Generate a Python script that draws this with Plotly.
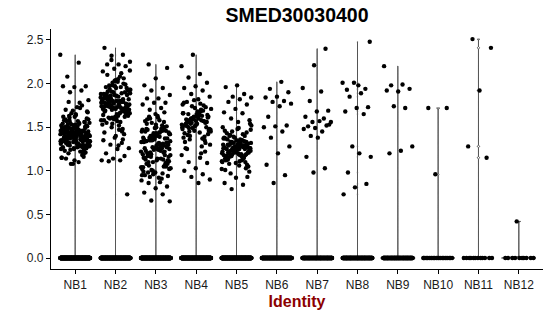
import numpy as np
import plotly.graph_objects as go

categories = ["NB1", "NB2", "NB3", "NB4", "NB5", "NB6", "NB7", "NB8", "NB9", "NB10", "NB11", "NB12"]

nb1 = [2.33,2.24,2.08,1.97,1.96,1.97,1.92,1.90,1.81,1.73,1.70,
1.45,1.38,1.52,1.29,1.41,1.60,1.35,1.47,1.22,1.43,1.55,1.31,1.39,1.49,1.26,1.44,1.36,1.58,1.42,
1.33,1.50,1.19,1.40,1.46,1.28,1.53,1.37,1.62,1.34,1.45,1.24,1.41,1.48,1.32,1.56,1.38,1.15,1.43,1.30,
1.51,1.36,1.44,1.27,1.66,1.40,1.47,1.33,1.21,1.42,1.54,1.37,1.29,1.45,1.39,1.59,1.35,1.48,1.25,1.43,
1.31,1.52,1.38,1.46,1.18,1.41,1.34,1.57,1.44,1.28,1.40,1.49,1.36,1.63,1.32,1.45,1.23,1.39,1.53,1.42,
1.30,1.47,1.37,1.12,1.44,1.35,1.55,1.41,1.27,1.50,1.38,1.69,1.33,1.46,1.20,1.43,1.39,1.58,1.34,1.48,
1.29,1.42,1.36,1.51,1.25,1.45,1.40,1.61,1.32,1.47,1.37,1.16,1.44,1.31,1.54,1.39,1.26,1.49,1.35,1.75,
1.41,1.28,1.46,1.38,1.56,1.33,1.43,1.22,1.50,1.36,1.64,1.40,1.30,1.47,1.34,1.10,1.45,1.39,1.52,1.27,
1.42,1.37,1.59,1.31,1.48,1.24,1.44,1.35,1.78,1.40,1.29,1.53,1.38,1.46,1.08,1.33,1.43,1.57,1.36,1.49,
1.26,1.41,1.32,1.67,1.45,1.39,1.21,1.47,1.34,1.55,1.30,1.42,1.37,1.62,1.28,1.44,1.40,1.51,1.14,1.35,
1.08,1.15,1.72,1.79,1.68,1.65]

nb2 = [2.41,2.33,2.32,2.25,2.22,2.22,2.20,2.17,2.14,2.12,
1.78,1.92,1.65,1.85,1.71,2.01,1.58,1.80,1.74,1.95,1.62,1.88,1.69,1.83,1.76,2.05,1.55,1.90,1.72,1.81,
1.67,1.98,1.75,1.60,1.86,1.79,1.70,1.93,1.52,1.84,1.77,2.03,1.64,1.89,1.73,1.82,1.57,1.96,1.68,1.80,
1.74,2.08,1.61,1.87,1.71,1.78,1.48,1.91,1.66,1.85,1.76,1.99,1.59,1.83,1.72,1.94,1.63,1.80,1.69,2.06,
1.54,1.88,1.75,1.81,1.67,1.97,1.73,1.45,1.86,1.70,2.02,1.77,1.62,1.90,1.79,1.56,1.84,1.74,1.95,1.68,
1.82,1.50,1.89,1.76,2.10,1.65,1.87,1.71,1.79,1.60,1.92,1.73,1.83,1.42,1.98,1.78,1.66,1.85,1.70,2.04,
1.58,1.81,1.75,1.93,1.63,1.88,1.72,1.77,1.53,1.96,1.80,1.69,1.86,1.74,2.00,1.61,1.84,1.47,1.91,1.76,
1.38,1.35,1.32,1.30,1.26,1.25,1.20,1.17,1.14,1.12,1.12,1.11,0.73,1.40,1.44,1.36,2.27,2.15,1.29]

nb3 = [2.22,2.18,2.06,1.98,1.95,1.92,1.87,1.83,1.83,1.78,1.78,1.76,1.72,1.70,
1.32,1.12,1.45,1.05,1.38,1.22,1.58,0.98,1.28,1.41,1.15,1.52,1.35,1.02,1.25,1.48,
1.18,1.39,0.95,1.30,1.62,1.08,1.43,1.26,1.13,1.55,1.34,0.92,1.20,1.46,1.37,1.04,1.29,1.60,1.16,1.40,
1.23,1.50,1.00,1.33,1.44,1.10,1.27,1.65,1.36,0.97,1.19,1.42,1.31,1.54,1.07,1.24,1.47,1.14,1.38,0.94,
1.29,1.57,1.21,1.35,1.03,1.44,1.17,1.32,1.49,0.99,1.26,1.40,1.11,1.63,1.34,1.22,0.96,1.45,1.28,1.06,
1.37,1.53,1.15,1.31,1.01,1.42,1.24,1.59,1.09,1.36,1.19,1.48,0.93,1.30,1.41,1.13,1.56,1.27,1.04,1.39,
1.20,1.51,0.98,1.33,1.46,1.16,1.25,1.61,1.08,1.37,1.43,1.02,1.23,1.35,1.12,1.50,0.95,1.29,1.40,1.18,
1.32,1.47,1.05,1.26,1.38,0.91,1.21,1.44,1.14,1.34,1.67,1.10,0.89,0.87,0.86,0.82,0.80,0.75,0.73,0.66,0.65]

nb4 = [2.33,2.20,2.11,2.07,2.01,1.97,1.95,1.92,1.88,1.85,1.82,1.79,
1.55,1.62,1.48,1.70,1.58,1.42,1.65,1.52,1.75,1.60,1.45,1.67,1.56,1.50,1.72,1.38,1.63,1.54,
1.47,1.68,1.59,1.35,1.61,1.53,1.77,1.49,1.64,1.57,1.43,1.69,1.55,1.30,1.60,1.51,1.73,1.46,1.66,1.58,
1.40,1.62,1.54,1.26,1.57,1.49,1.71,1.44,1.65,1.56,1.52,1.78,1.37,1.60,1.48,1.63,1.55,1.22,1.59,1.50,
1.68,1.45,1.61,1.53,1.33,1.57,1.74,1.47,1.64,1.41,1.56,1.51,1.66,1.28,1.58,1.46,1.62,1.54,1.39,1.60,
1.18,1.15,1.10,1.09,1.03,1.00,0.96,0.93,0.90,0.86,1.25,1.32,1.81,1.76,1.20,1.36]

nb5 = [1.98,1.96,1.88,1.85,1.84,1.82,1.79,1.76,1.71,1.67,1.66,1.60,1.58,1.56,
1.25,1.18,1.32,1.10,1.28,1.40,1.21,1.35,1.14,1.27,1.45,1.23,1.06,1.30,1.19,1.38,
1.26,1.12,1.33,1.22,1.48,1.16,1.29,1.24,1.02,1.36,1.20,1.31,1.09,1.27,1.42,1.17,1.25,1.34,1.13,1.28,
1.22,1.50,1.19,1.30,1.05,1.24,1.37,1.15,1.26,1.32,1.11,1.21,1.44,1.28,1.18,1.35,1.23,0.99,1.29,1.16,
1.25,1.39,1.20,1.31,1.08,1.27,1.22,1.46,1.14,1.33,1.26,1.19,1.36,1.03,1.24,1.30,1.17,1.41,1.21,1.28,
1.12,1.34,1.25,1.52,1.18,1.29,1.07,1.23,1.38,1.15,1.32,1.26,1.20,1.43,1.10,1.27,1.22,1.35,1.16,1.31,
1.24,1.01,1.29,1.19,1.47,1.25,1.13,1.33,1.21,1.37,1.28,0.97,1.23,1.30,1.17,1.40,1.26,1.11,1.32,1.22,
0.93,0.92,0.86,0.84,0.79,1.54,1.49]

nb6 = [2.02,1.94,1.90,1.85,1.84,1.80,1.79,1.77,1.74,1.62,1.52,1.51,1.50,1.45,1.38,1.28,1.20,1.07,0.95,0.86]
nb7 = [2.40,2.21,1.95,1.91,1.80,1.69,1.68,1.62,1.60,1.56,1.56,1.57,1.51,1.52,1.49,1.48,1.45,1.40,1.53,1.38,1.16,1.03,0.98]
nb8 = [2.48,1.98,1.93,1.94,2.01,2.01,1.89,1.85,1.73,1.72,1.68,1.65,1.28,1.16,1.20,0.98,0.85,0.81,0.73]
nb9 = [2.20,1.99,1.98,1.94,1.91,1.92,1.72,1.74,1.28,1.23,1.20]
nb10 = [1.72,1.72,0.96]
nb11 = [2.51,2.41,1.92,1.28,1.15]
nb12 = [0.42]

nonzero_values = [nb1, nb2, nb3, nb4, nb5, nb6, nb7, nb8, nb9, nb10, nb11, nb12]
# cells with zero expression per identity (overplotted band at 0)
zero_counts = [350, 300, 300, 300, 300, 200, 150, 150, 120, 22, 12, 10]

y_ticks = [0.0, 0.5, 1.0, 1.5, 2.0, 2.5]
y_tick_labels = ["0.0", "0.5", "1.0", "1.5", "2.0", "2.5"]

JITTER = 0.37
PHI = (np.sqrt(5) - 1) / 2

vx, vy, px, py = [], [], [], []
for i, (vals, nz) in enumerate(zip(nonzero_values, zero_counts)):
    allv = list(vals) + [0.0] * nz
    vx += [i] * len(allv)
    vy += allv
    k = np.arange(len(allv))
    off = ((k * PHI + 0.13 * i) % 1.0 - 0.5) * 2 * JITTER
    px += list(i + off)
    py += allv

fig = go.Figure()
fig.add_trace(go.Violin(
    x=vx, y=vy, points=False, spanmode="hard", bandwidth=0.007,
    scalemode="width", width=0.86, line=dict(color="#444444", width=1),
    fillcolor="rgba(0,0,0,0)", hoverinfo="skip", box_visible=False, meanline_visible=False,
))
fig.add_trace(go.Scatter(
    x=px, y=py, mode="markers",
    marker=dict(color="black", size=4.4, line=dict(width=0)),
    hoverinfo="skip",
))

font_family = "Liberation Sans, Arial, sans-serif"
fig.update_layout(
    width=550, height=316,
    margin=dict(l=51, r=7, t=29, b=47),
    paper_bgcolor="white", plot_bgcolor="white",
    showlegend=False,
    violinmode="overlay",
    font=dict(family=font_family, color="black"),
    title=dict(text="SMED30030400", x=0.5, xref="paper", xanchor="center",
               y=1 - 15 / 316, yref="container", yanchor="middle",
               font=dict(size=19.5, weight="bold", color="black", family=font_family)),
    xaxis=dict(
        range=[-0.6, 11.6], tickmode="array", tickvals=list(range(len(categories))),
        ticktext=categories, showgrid=False, zeroline=False,
        showline=True, linecolor="black", linewidth=1.2,
        ticks="outside", ticklen=4, tickcolor="black", tickwidth=1,
        tickfont=dict(size=12, color="#1a1a1a"),
        title=dict(text="Identity", standoff=5,
                   font=dict(size=16, weight="bold", color="#8B0000")),
    ),
    yaxis=dict(
        range=[-0.126, 2.626], tickmode="array", tickvals=y_ticks, ticktext=y_tick_labels,
        showgrid=False, zeroline=False,
        showline=True, linecolor="black", linewidth=1.2,
        ticks="outside", ticklen=4, tickcolor="black", tickwidth=1,
        tickfont=dict(size=12, color="#1a1a1a"),
    ),
)

fig.write_html("out.html")
